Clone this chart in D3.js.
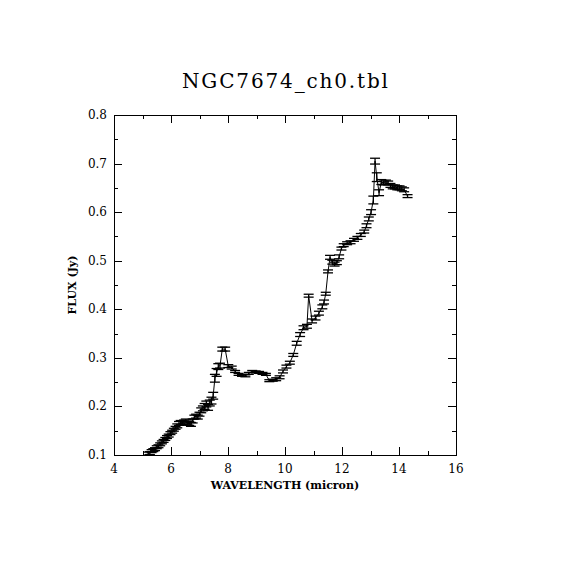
<!DOCTYPE html>
<html>
<head>
<meta charset="utf-8">
<script src="https://cdn.jsdelivr.net/npm/d3@7"></script>
<style>
  body { margin: 0; background: #fff; }
  text { font-family: "DejaVu Serif", "Liberation Serif", serif; fill: #000; }
</style>
</head>
<body>
<svg id="chart" width="570" height="570"></svg>
<script>
var title = 'NGC7674_ch0.tbl'
var xLabel = 'WAVELENGTH (micron)'
var yLabel = 'FLUX (Jy)'

var xTicks = [4, 6, 8, 10, 12, 14, 16]
var yTicks = [0.1, 0.2, 0.3, 0.4, 0.5, 0.6, 0.7, 0.8]

var wavelength = [5.20, 5.26, 5.32, 5.38, 5.44, 5.50, 5.56, 5.62, 5.68, 5.74,
  5.80, 5.86, 5.92, 5.98, 6.04, 6.10, 6.16, 6.22, 6.28, 6.34,
  6.40, 6.46, 6.52, 6.58, 6.64, 6.70, 6.76, 6.82, 6.88, 6.94,
  7.00, 7.06, 7.12, 7.18, 7.24, 7.30, 7.36, 7.42, 7.48, 7.54,
  7.60, 7.66, 7.72, 7.80, 7.90, 8.01, 8.13, 8.25, 8.37, 8.49,
  8.61, 8.73, 8.85, 8.97, 9.09, 9.21, 9.33, 9.45, 9.57, 9.69,
  9.81, 9.93, 10.05, 10.17, 10.29, 10.41, 10.53, 10.65, 10.77, 10.83,
  10.95, 11.07, 11.19, 11.31, 11.37, 11.43, 11.51, 11.58, 11.66, 11.74,
  11.82, 11.90, 11.98, 12.06, 12.18, 12.30, 12.42, 12.54, 12.66, 12.78,
  12.86, 12.94, 13.02, 13.10, 13.16, 13.22, 13.30, 13.38, 13.46, 13.54,
  13.62, 13.70, 13.78, 13.86, 13.94, 14.02, 14.10, 14.18, 14.30]

var flux = [0.103, 0.104, 0.108, 0.110, 0.112, 0.116, 0.118, 0.122, 0.126, 0.129,
  0.133, 0.137, 0.140, 0.145, 0.148, 0.152, 0.156, 0.160, 0.165, 0.167,
  0.166, 0.168, 0.170, 0.166, 0.165, 0.163, 0.170, 0.178, 0.180, 0.178,
  0.184, 0.192, 0.196, 0.200, 0.205, 0.198, 0.207, 0.212, 0.222, 0.258,
  0.270, 0.282, 0.284, 0.318, 0.318, 0.283, 0.280, 0.272, 0.266, 0.264,
  0.263, 0.268, 0.272, 0.271, 0.270, 0.268, 0.266, 0.253, 0.254, 0.256,
  0.260, 0.272, 0.282, 0.290, 0.306, 0.330, 0.348, 0.362, 0.365, 0.428,
  0.376, 0.382, 0.392, 0.405, 0.415, 0.432, 0.478, 0.507, 0.497, 0.493,
  0.496, 0.508, 0.525, 0.532, 0.536, 0.538, 0.543, 0.547, 0.553, 0.560,
  0.572, 0.586, 0.600, 0.625, 0.705, 0.672, 0.640, 0.662, 0.660, 0.662,
  0.660, 0.655, 0.652, 0.652, 0.650, 0.650, 0.648, 0.646, 0.633]

var fluxErr = [0.003, 0.003, 0.003, 0.003, 0.003, 0.003, 0.003, 0.003, 0.003, 0.003,
  0.003, 0.003, 0.003, 0.003, 0.003, 0.003, 0.003, 0.004, 0.004, 0.004,
  0.004, 0.004, 0.004, 0.004, 0.004, 0.004, 0.004, 0.004, 0.004, 0.004,
  0.004, 0.005, 0.005, 0.006, 0.006, 0.006, 0.006, 0.007, 0.007, 0.008,
  0.008, 0.006, 0.005, 0.004, 0.004, 0.003, 0.003, 0.002, 0.002, 0.002,
  0.002, 0.002, 0.002, 0.002, 0.002, 0.002, 0.002, 0.002, 0.002, 0.003,
  0.003, 0.003, 0.003, 0.003, 0.003, 0.004, 0.004, 0.004, 0.004, 0.003,
  0.004, 0.004, 0.004, 0.004, 0.004, 0.003, 0.003, 0.004, 0.004, 0.004,
  0.004, 0.004, 0.003, 0.003, 0.003, 0.003, 0.003, 0.003, 0.003, 0.003,
  0.004, 0.004, 0.005, 0.008, 0.006, 0.009, 0.006, 0.005, 0.004, 0.004,
  0.004, 0.004, 0.004, 0.004, 0.004, 0.004, 0.004, 0.004, 0.003]

function drawSpectrum() {
  var svg = d3.select('#chart')

  var x0 = 114, x1 = 456, y0 = 455, y1 = 115

  var xScale = d3.scaleLinear().domain([4, 16]).range([x0, x1])
  var yScale = d3.scaleLinear().domain([0.1, 0.8]).range([y0, y1])

  var points = wavelength.map(function(w, i) {
    return { x: w, y: flux[i], e: fluxErr[i] }
  })

  // frame
  svg.append('rect')
    .attr('x', x0 + 0.5).attr('y', y1 + 0.5)
    .attr('width', x1 - x0).attr('height', y0 - y1)
    .attr('fill', 'none').attr('stroke', 'black').attr('stroke-width', 1)

  // ticks on all four sides, pointing in
  var xMinor = d3.range(4, 16.01, 1)
  var yMinor = d3.range(0.1, 0.801, 0.05)
  var ticks = svg.append('g').attr('stroke', 'black').attr('stroke-width', 1)

  xMinor.forEach(function(v) {
    var len = xTicks.indexOf(Math.round(v)) >= 0 ? 8 : 4
    var x = Math.round(xScale(v)) + 0.5
    ticks.append('line').attr('x1', x).attr('x2', x).attr('y1', y0).attr('y2', y0 - len)
    ticks.append('line').attr('x1', x).attr('x2', x).attr('y1', y1).attr('y2', y1 + len)
  })
  yMinor.forEach(function(v, i) {
    var len = i % 2 == 0 ? 8 : 4
    var y = Math.round(yScale(v)) + 0.5
    ticks.append('line').attr('y1', y).attr('y2', y).attr('x1', x0).attr('x2', x0 + len)
    ticks.append('line').attr('y1', y).attr('y2', y).attr('x1', x1).attr('x2', x1 - len)
  })

  // tick labels
  svg.append('g').selectAll('text')
    .data(xTicks).enter().append('text')
      .attr('x', function(d) { return xScale(d) })
      .attr('y', 473)
      .attr('text-anchor', 'middle')
      .attr('font-size', 12)
      .text(function(d) { return d })

  svg.append('g').selectAll('text')
    .data(yTicks).enter().append('text')
      .attr('x', 107)
      .attr('y', function(d) { return yScale(d) + 4 })
      .attr('text-anchor', 'end')
      .attr('font-size', 12)
      .text(function(d) { return d.toFixed(1) })

  // axis titles
  svg.append('text')
    .attr('x', 285).attr('y', 489)
    .attr('text-anchor', 'middle')
    .attr('font-size', 11).attr('font-weight', 'bold')
    .text(xLabel)

  svg.append('text')
    .attr('transform', 'translate(76,285) rotate(-90)')
    .attr('text-anchor', 'middle')
    .attr('font-size', 11).attr('font-weight', 'bold')
    .text(yLabel)

  svg.append('text')
    .attr('x', 285).attr('y', 88)
    .attr('text-anchor', 'middle')
    .attr('font-size', 20)
    .attr('textLength', 206)
    .text(title)

  // spectrum line
  var line = d3.line()
    .x(function(d) { return xScale(d.x) })
    .y(function(d) { return yScale(d.y) })

  svg.append('path')
    .datum(points)
    .attr('d', line)
    .attr('fill', 'none').attr('stroke', 'black').attr('stroke-width', 1)

  // error bars with caps
  var bars = svg.append('g')
    .attr('stroke', 'black').attr('stroke-width', 1.3)
    .selectAll('g').data(points).enter().append('g')

  bars.append('line')
    .attr('x1', function(d) { return xScale(d.x) })
    .attr('x2', function(d) { return xScale(d.x) })
    .attr('y1', function(d) { return yScale(d.y - d.e) })
    .attr('y2', function(d) { return yScale(d.y + d.e) })

  bars.append('line')
    .attr('x1', function(d) { return xScale(d.x) - 5 })
    .attr('x2', function(d) { return xScale(d.x) + 5 })
    .attr('y1', function(d) { return yScale(d.y + d.e) })
    .attr('y2', function(d) { return yScale(d.y + d.e) })

  bars.append('line')
    .attr('x1', function(d) { return xScale(d.x) - 5 })
    .attr('x2', function(d) { return xScale(d.x) + 5 })
    .attr('y1', function(d) { return yScale(d.y - d.e) })
    .attr('y2', function(d) { return yScale(d.y - d.e) })
}

drawSpectrum()
</script>
</body>
</html>
